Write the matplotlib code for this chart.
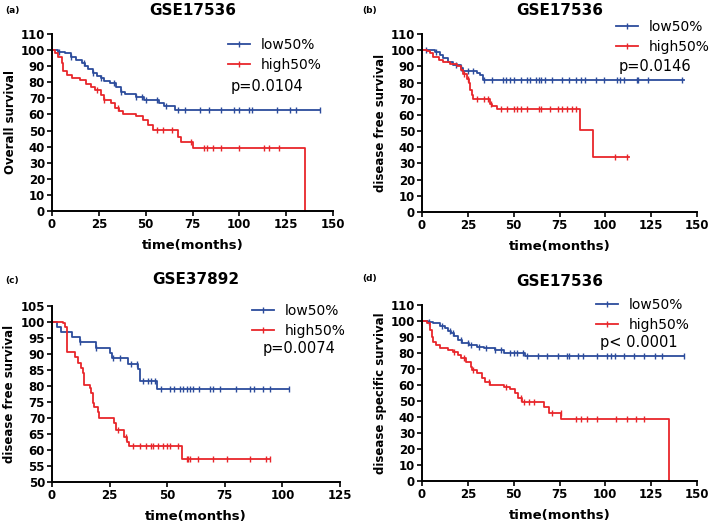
import numpy as np
import matplotlib
matplotlib.use("Agg")
import matplotlib.pyplot as plt
from matplotlib.lines import Line2D

# Kaplan-Meier curves: step times / survival (%) / end / censor times
a_low_t = [0, 3, 7, 10, 13, 16, 17.5, 19, 22, 24, 26, 28, 31, 34, 37, 39, 45, 49, 57, 60, 65.5]
a_low_s = [100, 99, 98, 96, 94, 92, 90, 88, 86, 84, 82.5, 81, 79.5, 77, 74, 73, 71, 69, 67, 65, 62.5]
a_low_end = 143
a_low_cens = [3.5, 10, 17, 22, 26, 33, 37, 45, 48, 50, 56, 61, 67, 71, 79, 84, 90, 97, 100, 105, 107, 120, 127, 130, 143]
a_high_t = [0, 1.6, 3.4, 5.1, 6, 7.8, 10.5, 15, 18.4, 21, 23, 26.4, 28, 31.7, 33.5, 36, 38, 45, 48.6, 51, 54, 67, 69, 75, 135]
a_high_s = [100, 98, 96, 92, 87, 84.5, 82.5, 81.5, 79, 77, 75, 72, 69, 67, 64, 62, 60, 59, 56.5, 53.5, 50.5, 46, 43, 39, 0]
a_high_end = 135
a_high_cens = [24, 28, 35, 56, 59, 64, 74, 81, 83, 86, 90, 100, 113, 116, 121]

b_low_t = [0, 7.1, 9.8, 11.7, 14.4, 17, 21, 22.6, 30, 31.7, 33.5]
b_low_s = [100, 99, 97, 95, 93, 91, 89, 87, 86, 84.5, 81.5]
b_low_end = 143
b_low_cens = [2, 7.6, 18.5, 21, 25, 27.6, 34, 38, 44, 46, 48, 50, 54, 57, 59, 62, 64, 65, 67, 71, 76.5, 80, 84,
              86.5, 89, 95, 99, 106.5, 108, 110, 117, 118, 123, 142]
b_high_t = [0, 2.5, 4.4, 6.2, 9, 11.7, 15, 19, 21, 22.6, 24.4, 25.4, 26.3, 27, 28, 37, 38, 40.9, 86.2, 93.4]
b_high_s = [100, 99.5, 98, 96, 94, 93, 91.5, 90, 88, 85.5, 82.5, 79.5, 75.5, 72.5, 70, 66.5, 65.5, 63.5, 50.5, 34]
b_high_end = 112.8
b_high_cens = [23, 25, 30, 34, 36, 37.5, 43, 46.6, 50, 52, 54, 57.5, 64, 65, 70, 74, 76.5, 79, 82, 84, 105, 112]

c_low_t = [0, 2, 4, 8.5, 12, 19.3, 25, 26, 33, 37.4, 38, 45.5]
c_low_s = [100, 98.5, 97, 95.3, 93.7, 92, 90.3, 88.7, 87, 85.4, 81.5, 79]
c_low_end = 103
c_low_cens = [12, 19.3, 26.5, 29.4, 34.5, 36.7, 39.6, 41.7, 43, 44.6, 47.5, 51, 53, 55.5, 57, 58.4, 60, 61.3,
              64, 68.6, 70, 73, 80, 86, 87.6, 91.7, 94.6, 103]
c_high_t = [0, 4.9, 5.6, 6.3, 9.9, 11.3, 12.7, 13.4, 14.1, 16.3, 17, 17.7, 18.4, 19.9, 20.6, 27, 27.7, 31.3,
            32.7, 33.4, 56.5]
c_high_s = [100, 99.6, 98.5, 90.7, 89.2, 87.1, 85.5, 84, 80.3, 79.3, 77.7, 74.6, 73.5, 72, 69.9, 68.3, 66.3, 64,
            62.6, 61.3, 57.1]
c_high_end = 94.6
c_high_cens = [28.7, 32.3, 35, 38, 41, 43, 44, 46, 48.3, 49.7, 51, 54.8, 58.4, 59, 60, 63.5, 70, 75.8, 86, 93, 94.6]

d_low_t = [0, 3.4, 6, 9.6, 12.3, 14.1, 15.9, 17.7, 19.5, 22, 25.7, 30, 33.8, 40, 44.5, 56]
d_low_s = [100, 99.6, 98.5, 97, 95.4, 94, 92.7, 90.6, 88, 86.5, 85, 84, 83, 81.9, 80.2, 78]
d_low_end = 143
d_low_cens = [4, 11, 15, 16.7, 21, 25, 26.7, 31, 35, 40, 43, 48, 50, 52, 55, 57.5, 63, 68, 74, 79, 80, 85, 88,
              95.6, 101, 103, 105, 110, 115.6, 121, 127, 131, 143]
d_high_t = [0, 2.5, 4.3, 5.2, 6, 7.9, 9.6, 14, 16.8, 19.5, 21.2, 23.9, 26.6, 27.5, 30.2, 32.9, 34.6, 37.3, 44.5,
            48, 50.7, 52.5, 54.3, 66.8, 69.5, 75.7, 134.6]
d_high_s = [100, 98.5, 94.4, 90.2, 87, 85, 83, 81.9, 80.8, 78.8, 76.7, 74.6, 71.5, 69.4, 67.7, 64.2, 62, 60, 59,
            57.3, 54.8, 51.7, 49.6, 46.5, 42.3, 38.5, 0]
d_high_end = 134.6
d_high_cens = [17.6, 23, 27.6, 36.6, 45.7, 53.9, 55.7, 58.4, 61, 71, 75.6, 83.8, 86.5, 90, 95.6, 105.6, 112,
               116.5, 121]

titles = ["GSE17536", "GSE17536", "GSE37892", "GSE17536"]
panel_tags = ["(a)", "(b)", "(c)", "(d)"]
ylabels = ["Overall survival", "disease free survival", "disease free survival", "disease specific survival"]
pvals = ["p=0.0104", "p=0.0146", "p=0.0074", "p< 0.0001"]
group_names = ["low50%", "high50%"]

BLUE = "#2c4c9c"
RED = "#e8262b"

plt.rcParams['font.family'] = ['DejaVu Sans']

W, H = 709, 526
fig = plt.figure(figsize=(7.09, 5.26), dpi=100)


def px_axes(left, top, right, bottom):
    return fig.add_axes([left / W, 1 - bottom / H, (right - left) / W, (bottom - top) / H])


def km(ax, t, s, end, cens, color):
    t = np.asarray(t, float)
    s = np.asarray(s, float)
    ax.step(np.append(t, end), np.append(s, s[-1]), where='post', color=color, lw=1.3, clip_on=False)
    cens = np.asarray(cens, float)
    idx = np.searchsorted(t, cens, side='right') - 1
    ax.plot(cens, s[idx], ls='none', marker='|', ms=4.5, mew=1.0, color=color, clip_on=False)


axes = [px_axes(52, 34, 333, 211), px_axes(422, 34, 697, 212),
        px_axes(52, 306, 340, 482), px_axes(422, 305, 697, 481)]
data = [(a_low_t, a_low_s, a_low_end, a_low_cens, a_high_t, a_high_s, a_high_end, a_high_cens),
        (b_low_t, b_low_s, b_low_end, b_low_cens, b_high_t, b_high_s, b_high_end, b_high_cens),
        (c_low_t, c_low_s, c_low_end, c_low_cens, c_high_t, c_high_s, c_high_end, c_high_cens),
        (d_low_t, d_low_s, d_low_end, d_low_cens, d_high_t, d_high_s, d_high_end, d_high_cens)]
xlims = [(0, 150), (0, 150), (0, 125), (0, 150)]
ylims = [(0, 110), (0, 110), (50, 105), (0, 110)]
ystep = [10, 10, 5, 10]
title_pad = [14, 14, 16, 14]
# legend anchor (px: handle left, row-1 centre) and p-value text centre (px)
leg_pos = [(228, 47), (616, 29), (252, 313), (596, 307)]
p_pos = [(231, 86), (619, 67), (263, 348), (600, 343)]
tag_pos = [(5, 11), (362, 11), (5, 280), (362, 278)]

for i, ax in enumerate(axes):
    lt, ls, le, lc, ht, hs, he, hc = data[i]
    km(ax, lt, ls, le, lc, BLUE)
    km(ax, ht, hs, he, hc, RED)
    ax.set_xlim(*xlims[i])
    ax.set_ylim(*ylims[i])
    ax.set_xticks(np.arange(xlims[i][0], xlims[i][1] + 1, 25))
    ax.set_yticks(np.arange(ylims[i][0], ylims[i][1] + 1, ystep[i]))
    for sp in ['top', 'right']:
        ax.spines[sp].set_visible(False)
    for sp in ['left', 'bottom']:
        ax.spines[sp].set_linewidth(1.4)
    ax.tick_params(direction='out', length=3.5, width=1.2, labelsize=8.5, pad=1.5)
    for lab in ax.get_xticklabels() + ax.get_yticklabels():
        lab.set_fontweight('bold')
    ax.set_xlabel("time(months)", fontsize=9.5, fontweight='bold', labelpad=6)
    ax.set_ylabel(ylabels[i], fontsize=8.5, fontweight='bold', labelpad=3)
    ax.set_title(titles[i], fontsize=11, fontweight='bold', pad=title_pad[i])

    handles = [Line2D([], [], color=BLUE, lw=1.3, marker='|', ms=4.5, mew=1.0),
               Line2D([], [], color=RED, lw=1.3, marker='|', ms=4.5, mew=1.0)]
    lx, ly = leg_pos[i]
    ax.legend(handles, group_names, loc='upper left', frameon=False, fontsize=10,
              handlelength=1.55, handletextpad=0.8, labelspacing=0.45, borderpad=0, borderaxespad=0,
              bbox_to_anchor=(lx / W, 1 - (ly - 9) / H), bbox_transform=fig.transFigure)
    px, py = p_pos[i]
    fig.text(px / W, 1 - py / H, pvals[i], fontsize=10.5, ha='left', va='center')
    tx, ty = tag_pos[i]
    fig.text(tx / W, 1 - ty / H, panel_tags[i], fontsize=6.5, fontweight='bold', ha='left', va='center')

fig.savefig("out.png", dpi=100)
